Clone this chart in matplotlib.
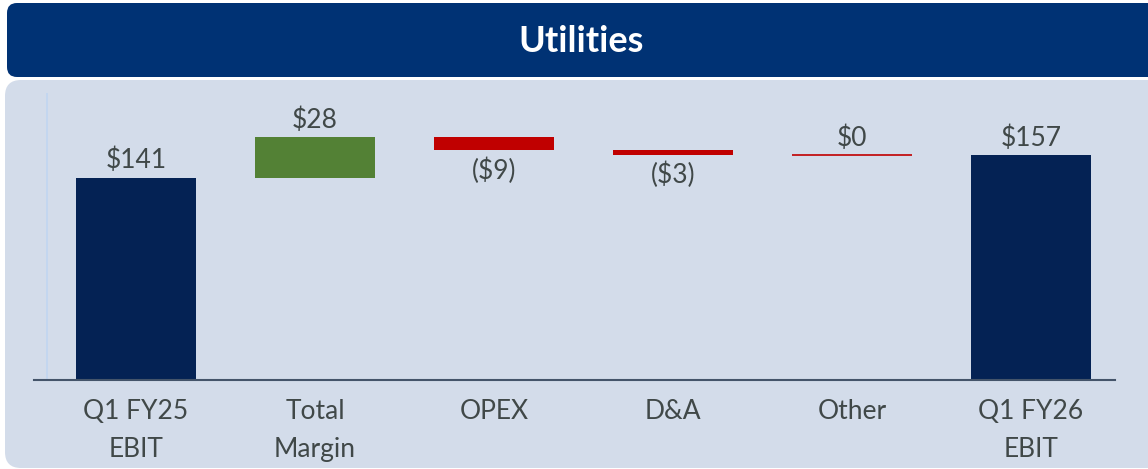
import matplotlib.pyplot as plt
from matplotlib.patches import FancyBboxPatch

# data
categories = ["Q1 FY25\nEBIT", "Total\nMargin", "OPEX", "D&A", "Other", "Q1 FY26\nEBIT"]
values = [141, 28, -9, -3, 0, 157]
is_total = [True, False, False, False, False, True]

navy = "#042254"
green = "#538135"
red = "#C00000"
txt = "#404848"
plt.rcParams['font.family'] = ['Lato', 'DejaVu Sans']

fig = plt.figure(figsize=(11.48, 4.69), dpi=100)

# background panels drawn in pixel coords
bg = fig.add_axes([0, 0, 1, 1])
bg.set_xlim(0, 1148)
bg.set_ylim(469, 0)
bg.axis('off')
bg.add_patch(FancyBboxPatch((7, 3), 1160, 74, boxstyle="round,pad=0,rounding_size=10",
                            fc="#003274", ec="none"))
bg.add_patch(FancyBboxPatch((5, 80), 1160, 388, boxstyle="round,pad=0,rounding_size=16",
                            fc="#D3DCEA", ec="none"))
bg.text(581, 42, "Utilities", color="white", fontsize=26, fontweight="bold",
        ha="center", va="center")

ax = fig.add_axes([34/1148, 89/469, 1081/1148, 287/469])
ax.patch.set_alpha(0)

running = 0
for i, (v, tot) in enumerate(zip(values, is_total)):
    if tot:
        bottom, height, col = 0, v, navy
        running = v
    else:
        height = v
        bottom = running
        running += v
        col = green if v > 0 else red
    ax.bar(i, height, bottom=bottom, width=0.67, color=col,
           edgecolor=col if v == 0 else "none", linewidth=1.2)
    top = max(bottom, bottom + height)
    low = min(bottom, bottom + height)
    if v >= 0:
        ax.annotate(f"${v:.0f}", (i, top), xytext=(0, 3), textcoords="offset points",
                    ha="center", va="bottom", fontsize=19, color=txt)
    else:
        ax.annotate(f"(${-v:.0f})", (i, low), xytext=(0, -5), textcoords="offset points",
                    ha="center", va="top", fontsize=19, color=txt)

ax.set_xlim(-0.57, 5.47)
ax.set_ylim(0, 200)
ax.axvline(-0.5, color="#C2D6F0", lw=1.3)
for s in ["top", "right", "left"]:
    ax.spines[s].set_visible(False)
ax.spines["bottom"].set_color("#44546A")
ax.spines["bottom"].set_linewidth(1.5)
ax.set_yticks([])
ax.set_xticks(range(len(categories)))
ax.set_xticklabels(categories, fontsize=19, color=txt, linespacing=1.65, va="top")
ax.tick_params(axis="x", length=0, pad=14)

plt.savefig("out.png", dpi=100)
